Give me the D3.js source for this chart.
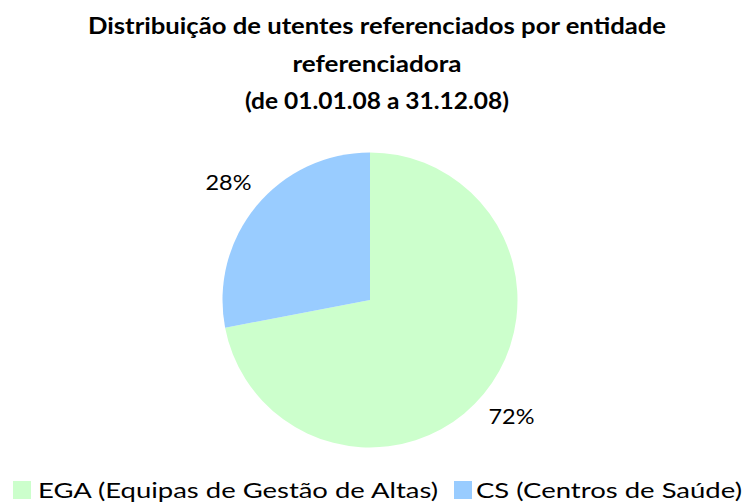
<!DOCTYPE html>
<html>
<head>
<meta charset="utf-8">
<script src="https://cdn.jsdelivr.net/npm/d3@7"></script>
<style>
  body { margin: 0; background: #fff; }
  text { font-family: "Lato", "Open Sans", sans-serif; fill: #000; }
</style>
</head>
<body>
<svg id="chart" width="746" height="504"></svg>
<script>
const categories = ["EGA (Equipas de Gestão de Altas)", "CS (Centros de Saúde)"];
const values = [72, 28];
const colors = ["#CCFFCC", "#99CCFF"];
const titleLines = [
  "Distribuição de utentes referenciados por entidade",
  "referenciadora",
  "(de 01.01.08 a 31.12.08)"
];

const svg = d3.select("#chart");
const cx = 370, cy = 300, radius = 147.5;

// title (widths)
const titleWidths = [578, 169, 264];
svg.selectAll(".title")
  .data(titleLines)
  .join("text")
  .attr("class", "title")
  .attr("x", 377)
  .attr("y", (d, i) => 34 + i * 37.5)
  .attr("text-anchor", "middle")
  .attr("textLength", (d, i) => titleWidths[i])
  .attr("lengthAdjust", "spacingAndGlyphs")
  .style("font-weight", "bold")
  .style("font-size", "23px")
  .text(d => d);

const pie = d3.pie().sort(null).value(d => d);
const arc = d3.arc().innerRadius(0).outerRadius(radius);
const arcs = pie(values);

const g = svg.append("g").attr("transform", `translate(${cx},${cy})`);

g.selectAll("path")
  .data(arcs)
  .join("path")
  .attr("d", arc)
  .attr("fill", (d, i) => colors[i]);

// percent labels outside the slices
const labelArc = d3.arc().innerRadius(radius * 1.245).outerRadius(radius * 1.245);
g.selectAll(".pct")
  .data(arcs)
  .join("text")
  .attr("class", "pct")
  .attr("transform", d => {
    const [x, y] = labelArc.centroid(d);
    return `translate(${x},${y})`;
  })
  .attr("text-anchor", "middle")
  .attr("dy", "0.35em")
  .attr("textLength", 46)
  .attr("lengthAdjust", "spacingAndGlyphs")
  .style("font-size", "21px")
  .text(d => d.data + "%");

// legend
const legendX = [13, 454];
const legendW = [400, 266];
const legend = svg.selectAll(".legend")
  .data(categories)
  .join("g")
  .attr("class", "legend")
  .attr("transform", (d, i) => `translate(${legendX[i]},481)`);

legend.append("rect")
  .attr("width", 18)
  .attr("height", 18)
  .attr("fill", (d, i) => colors[i]);

legend.append("text")
  .attr("x", (d, i) => i === 0 ? 25 : 22)
  .attr("y", 17)
  .style("font-size", "22px")
  .attr("textLength", (d, i) => legendW[i])
  .attr("lengthAdjust", "spacingAndGlyphs")
  .text(d => d);
</script>
</body>
</html>
